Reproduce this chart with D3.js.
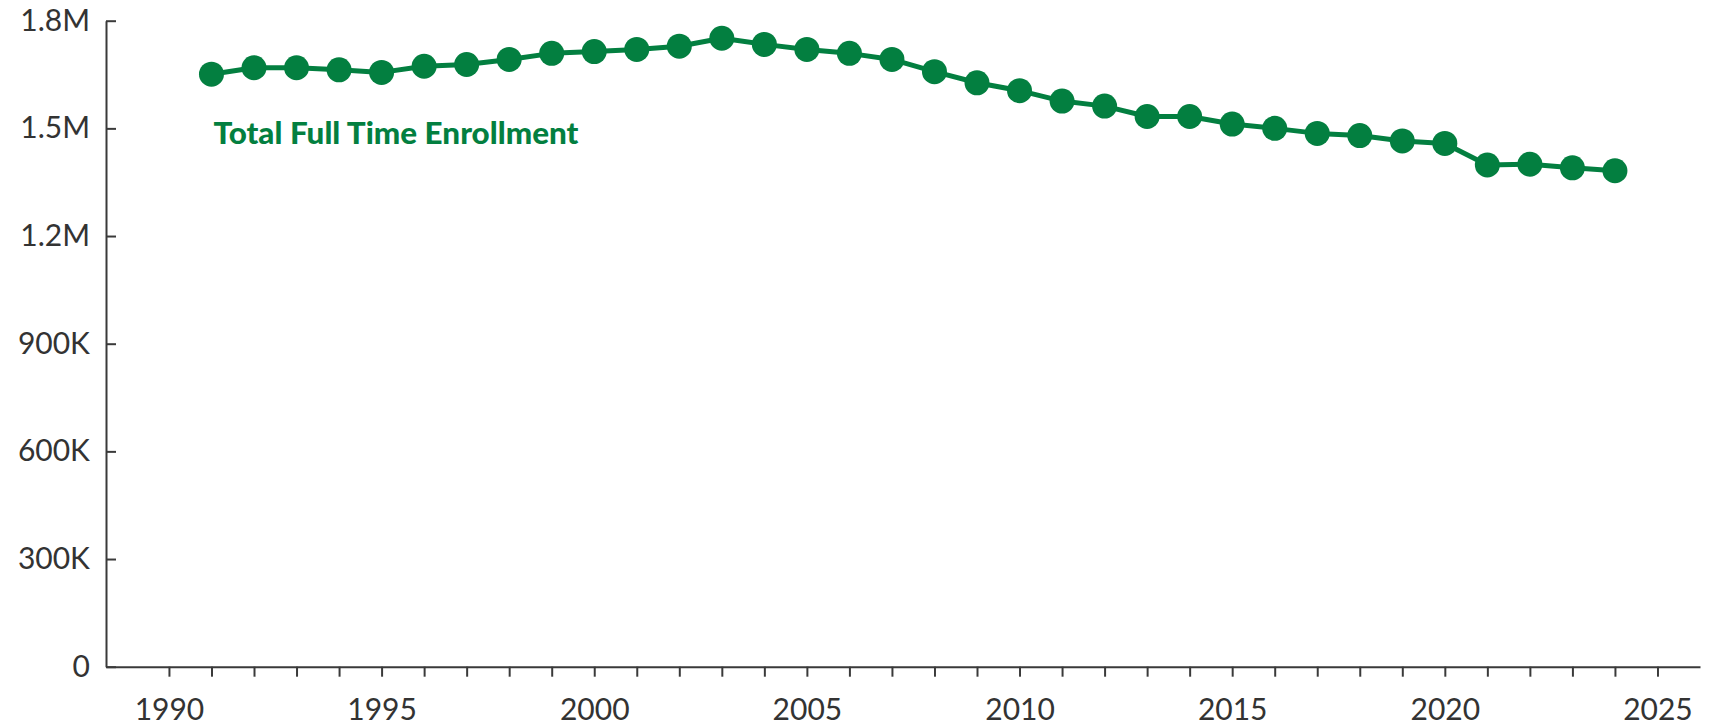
<!DOCTYPE html>
<html>
<head>
<meta charset="utf-8">
<script src="https://cdn.jsdelivr.net/npm/d3@7"></script>
<style>
  body { margin: 0; background: #fff; }
  .axis text { font-family: Lato, "Open Sans", sans-serif; font-size: 30px; fill: #333; }
  .axis path, .axis line { stroke: #3a3a3a; stroke-width: 2px; }
</style>
</head>
<body>
<script>
// enrollment by year
var years = [1991, 1992, 1993, 1994, 1995, 1996, 1997, 1998, 1999, 2000,
             2001, 2002, 2003, 2004, 2005, 2006, 2007, 2008, 2009, 2010,
             2011, 2012, 2013, 2014, 2015, 2016, 2017, 2018, 2019, 2020,
             2021, 2022, 2023, 2024];
var enrollment = [1651000, 1669000, 1669000, 1663000, 1656000, 1673000, 1678000, 1692000, 1709000, 1714000,
                  1720000, 1729000, 1751000, 1734000, 1720000, 1709000, 1692000, 1658000, 1627000, 1605000,
                  1576000, 1562000, 1533000, 1533000, 1512000, 1500000, 1486000, 1480000, 1465000, 1458000,
                  1398000, 1400000, 1390000, 1382000];
var seriesName = "Total Full Time Enrollment";
var yTicks = [0, 300000, 600000, 900000, 1200000, 1500000, 1800000];
var yTickLabels = ["0", "300K", "600K", "900K", "1.2M", "1.5M", "1.8M"];
var xTicks = d3.range(1990, 2026);

var width = 1712, height = 728;
var margin = {top: 20.7, right: 12, bottom: 61.3, left: 106};
var green = "#037f40";

var svg = d3.select("body").append("svg")
    .attr("width", width)
    .attr("height", height);

var x = d3.scaleLinear()
    .domain([1988.52, 2026])
    .range([margin.left, width - margin.right]);

var y = d3.scaleLinear()
    .domain([0, 1800000])
    .range([height - margin.bottom, margin.top]);

var xAxis = d3.axisBottom(x)
    .tickValues(xTicks)
    .tickSizeInner(10)
    .tickSizeOuter(0)
    .tickPadding(22)
    .tickFormat(function(d) { return d % 5 === 0 ? d : ""; });

svg.append("g")
    .attr("class", "axis")
    .attr("transform", "translate(0," + (height - margin.bottom) + ")")
    .call(xAxis);

var yAxis = d3.axisLeft(y)
    .tickValues(yTicks)
    .tickSizeInner(-10)
    .tickSizeOuter(0)
    .tickPadding(16)
    .tickFormat(function(d, i) { return yTickLabels[i]; });

svg.append("g")
    .attr("class", "axis")
    .attr("transform", "translate(" + margin.left + ",0)")
    .call(yAxis);

var data = years.map(function(yr, i) { return {year: yr, value: enrollment[i]}; });

var line = d3.line()
    .x(function(d) { return x(d.year); })
    .y(function(d) { return y(d.value); });

svg.append("path")
    .datum(data)
    .attr("fill", "none")
    .attr("stroke", green)
    .attr("stroke-width", 5)
    .attr("stroke-linejoin", "round")
    .attr("d", line);

svg.append("g")
    .selectAll("circle")
    .data(data)
    .enter().append("circle")
    .attr("cx", function(d) { return x(d.year); })
    .attr("cy", function(d) { return y(d.value); })
    .attr("r", 12.5)
    .attr("fill", green);

// series label
svg.append("text")
    .attr("x", x(1991) + 2)
    .attr("y", 144)
    .attr("fill", green)
    .attr("font-family", "Lato, 'Open Sans', sans-serif")
    .attr("font-weight", 900)
    .attr("font-size", 30)
    .attr("textLength", 365)
    .attr("lengthAdjust", "spacingAndGlyphs")
    .text(seriesName);
</script>
</body>
</html>
